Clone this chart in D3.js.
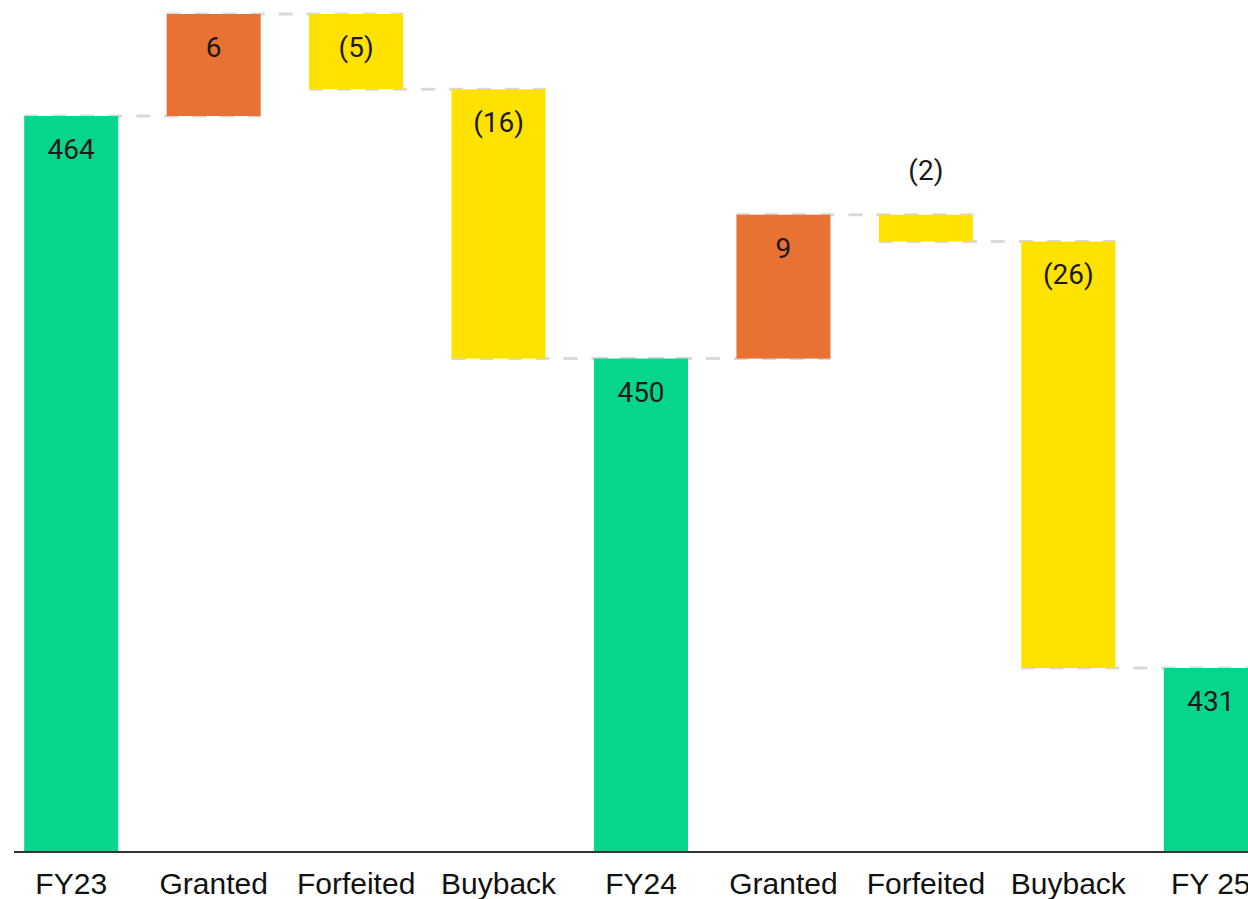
<!DOCTYPE html>
<html>
<head>
<meta charset="utf-8">
<script src="https://cdn.jsdelivr.net/npm/d3@7"></script>
<style>
  body { margin: 0; background: #fff; overflow: hidden; }
  .value-label { font-family: Roboto, sans-serif; font-size: 28px; fill: #1a1a1a; }
  .axis text { font-family: "Liberation Sans", Arial, sans-serif; font-size: 30px; fill: #111; }
</style>
</head>
<body>
<svg id="chart" width="1248" height="899"></svg>
<script>
  // waterfall data
  const categories = ["FY23", "Granted", "Forfeited", "Buyback", "FY24", "Granted", "Forfeited", "Buyback", "FY 25"];
  const values = [464, 6.1, -4.5, -16.1, 449.5, 8.6, -1.6, -25.5, 431];
  const kinds = ["total", "increase", "decrease", "decrease", "total", "increase", "decrease", "decrease", "total"];
  const yMin = 420;

  const colors = { total: "#05d68c", increase: "#e87134", decrease: "#ffe200" };

  const svg = d3.select("#chart");
  const width = +svg.attr("width");

  // running totals -> start/end of each bar
  let running = 0;
  const bars = values.map((v, i) => {
    let start, end;
    if (kinds[i] === "total") {
      start = yMin; end = v; running = v;
    } else {
      start = running; end = running + v; running = end;
    }
    return { i, name: categories[i], kind: kinds[i], value: v, start, end, level: running };
  });

  const x = d3.scaleBand()
    .domain(bars.map(d => d.i))
    .range([0, 1282])
    .paddingInner(0.34)
    .paddingOuter(0.17);

  const y = d3.scaleLinear()
    .domain([yMin, 470.1])
    .range([852, 14]);

  // dashed connectors between bars
  svg.append("g")
    .selectAll("line")
    .data(bars.slice(0, -1))
    .enter().append("line")
      .attr("x1", d => x(d.i))
      .attr("x2", d => x(d.i + 1) + x.bandwidth())
      .attr("y1", d => y(d.level))
      .attr("y2", d => y(d.level))
      .attr("stroke", "#d9d9d9")
      .attr("stroke-width", 3)
      .attr("stroke-dasharray", "14,14");

  svg.append("g")
    .selectAll("rect")
    .data(bars)
    .enter().append("rect")
      .attr("x", d => x(d.i))
      .attr("width", x.bandwidth())
      .attr("y", d => y(Math.max(d.start, d.end)))
      .attr("height", d => Math.abs(y(d.start) - y(d.end)))
      .attr("fill", d => colors[d.kind]);

  const fmt = d => {
    const r = Math.round(Math.abs(d.value));
    return d.value < 0 ? `(${r})` : `${r}`;
  };

  svg.append("g")
    .selectAll("text")
    .data(bars)
    .enter().append("text")
      .attr("class", "value-label")
      .attr("text-anchor", "middle")
      .attr("x", d => x(d.i) + x.bandwidth() / 2)
      .attr("y", d => {
        const top = y(Math.max(d.start, d.end));
        const h = Math.abs(y(d.start) - y(d.end));
        return h < 50 ? top - 35 : top + 43;
      })
      .text(fmt);

  const axis = svg.append("g")
    .attr("class", "axis")
    .attr("transform", "translate(0,852)")
    .call(d3.axisBottom(x).tickSize(0).tickPadding(21).tickFormat(i => categories[i]));

  axis.select(".domain").remove();
  axis.selectAll("text").attr("dy", "0.71em");

  axis.append("line")
    .attr("x1", 14)
    .attr("x2", width)
    .attr("stroke", "#333")
    .attr("stroke-width", 2);
</script>
</body>
</html>
